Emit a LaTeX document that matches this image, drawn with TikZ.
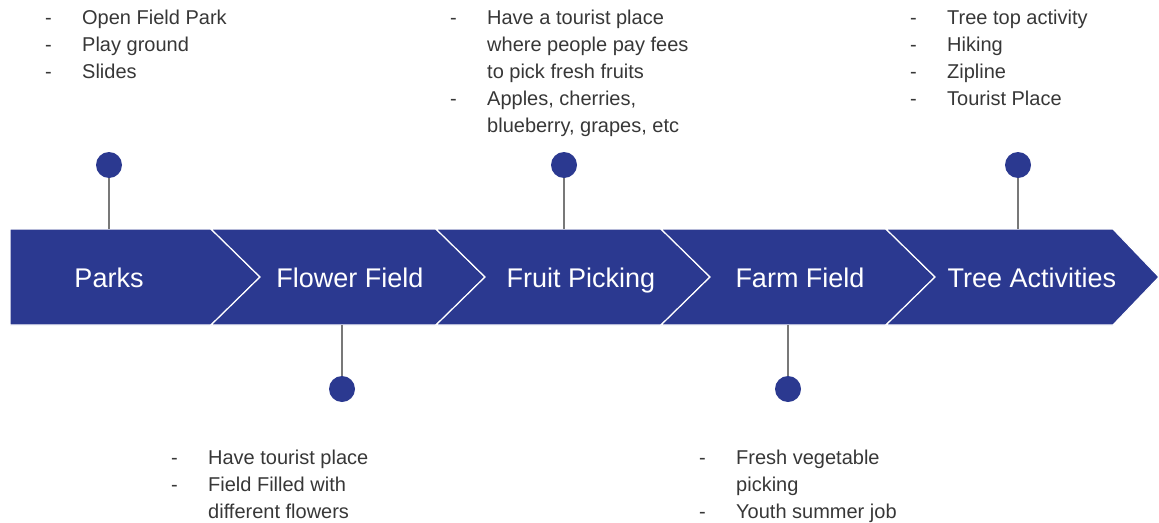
\documentclass[tikz,border=0pt]{standalone}
\usepackage{fontspec}
\setmainfont{Liberation Sans}
\definecolor{bandblue}{RGB}{43,57,144}
\definecolor{notegray}{RGB}{55,55,55}
\definecolor{stemgray}{RGB}{120,120,120}
\newcommand{\notelist}[1]{\begin{tabular}[t]{@{}p{37pt}@{}l@{}}#1\end{tabular}}

\begin{document}
\begin{tikzpicture}[x=1pt,y=-1pt,
  chevron/.style={fill=bandblue,draw=white,line width=1.2pt},
  bandlabel/.style={text=white,font=\fontsize{27}{32}\selectfont,anchor=base},
  dot/.style={circle,fill=bandblue,minimum size=26pt,inner sep=0pt},
  stem/.style={draw=stemgray,line width=1.5pt},
  notes/.style={text=notegray,font=\fontsize{20}{27}\selectfont,anchor=base west,inner sep=0pt}]
\useasboundingbox (0,0) rectangle (1159,522);
% band
\draw[chevron] (10,229) -- (211,229) -- (260,277) -- (211,325) -- (10,325) -- cycle;
\foreach \x in {211,436,661}
\draw[chevron] (\x,229) -- +(225,0) -- +(274,48) -- +(225,96) -- +(0,96) -- +(49,48) -- cycle;
\draw[chevron] (886,229) -- (1113,229) -- (1159,277) -- (1113,325) -- (886,325) -- (935,277) -- cycle;
\node[bandlabel] (parks) at (109,287) {Parks};
\node[bandlabel] (flower) at (350,287) {Flower Field};
\node[bandlabel] (fruit) at (581,287) {Fruit Picking};
\node[bandlabel] (farm) at (800,287) {Farm Field};
\node[bandlabel] (tree) at (1032,287) {Tree Activities};
% dots and stems
\node[dot] (dparks) at (109,165) {};
\node[dot] (dflower) at (342,389) {};
\node[dot] (dfruit) at (564,165) {};
\node[dot] (dfarm) at (788,389) {};
\node[dot] (dtree) at (1018,165) {};
\coordinate (cparks) at (109,229);
\coordinate (cflower) at (342,325);
\coordinate (cfruit) at (564,229);
\coordinate (cfarm) at (788,325);
\coordinate (ctree) at (1018,229);
\draw[stem] (dparks) -- (cparks);
\draw[stem] (dflower) -- (cflower);
\draw[stem] (dfruit) -- (cfruit);
\draw[stem] (dfarm) -- (cfarm);
\draw[stem] (dtree) -- (ctree);
% notes
\node[notes] (nparks) at (45,24) {\notelist{-&Open Field Park\\-&Play ground\\-&Slides}};
\node[notes] (nfruit) at (450,24) {\notelist{-&Have a tourist place\\&where people pay fees\\&to pick fresh fruits\\-&Apples, cherries,\\&blueberry, grapes, etc}};
\node[notes] (ntree) at (910,24) {\notelist{-&Tree top activity\\-&Hiking\\-&Zipline\\-&Tourist Place}};
\node[notes] (nflower) at (171,464) {\notelist{-&Have tourist place\\-&Field Filled with\\&different flowers}};
\node[notes] (nfarm) at (699,464) {\notelist{-&Fresh vegetable\\&picking\\-&Youth summer job}};
\end{tikzpicture}
\end{document}
